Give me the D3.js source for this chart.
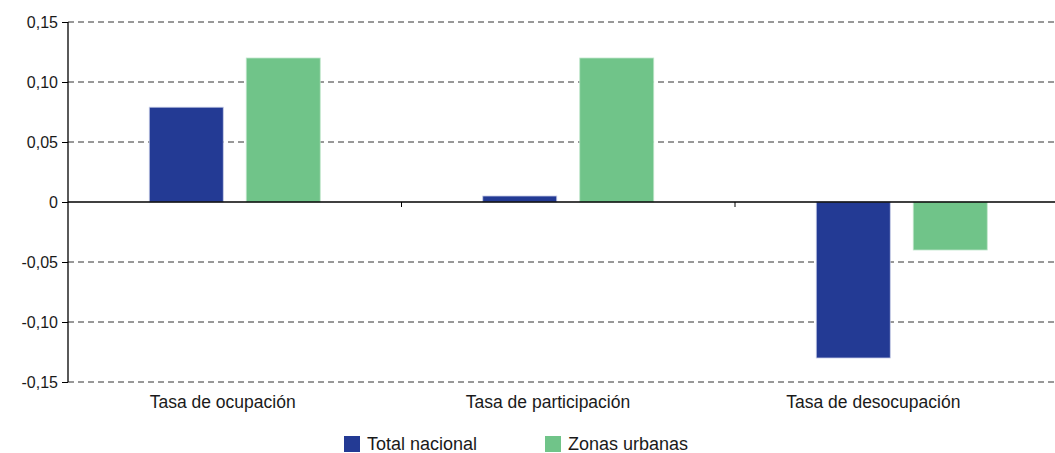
<!DOCTYPE html>
<html>
<head>
<meta charset="utf-8">
<script src="https://cdn.jsdelivr.net/npm/d3@7"></script>
<style>
  body { margin: 0; background: #fff; }
  svg { display: block; font-family: "Liberation Sans", Arial, sans-serif; }
</style>
</head>
<body>
<svg width="1055" height="453"></svg>
<script>
var categories = ["Tasa de ocupación", "Tasa de participación", "Tasa de desocupación"];
var series = ["Total nacional", "Zonas urbanas"];
var totalNacional = [0.079, 0.005, -0.13];
var zonasUrbanas = [0.12, 0.12, -0.04];
var yTicks = [-0.15, -0.10, -0.05, 0, 0.05, 0.10, 0.15];
var colors = ["#233a94", "#70c489"];

var values = [totalNacional, zonasUrbanas];

var svg = d3.select("svg");
var mLeft = 68, mRight = 1068.5, mTop = 22, mBottom = 382;

var x = d3.scaleBand().domain(categories).range([mLeft, mRight]);
var x1 = d3.scaleBand().domain(series).range([0, x.bandwidth()])
    .paddingInner(0.237).paddingOuter(0.838);
var y = d3.scaleLinear().domain([-0.15, 0.15]).range([mBottom, mTop]);
var xLabel = d3.scaleBand().domain(categories).range([60, 1036]);

var fmt = function (d) {
    if (d === 0) return "0";
    return d3.format(".2f")(d).replace(".", ",").replace("−", "-");
};

// grid lines
svg.selectAll(".grid")
    .data(yTicks.filter(d => d !== 0))
    .enter().append("line")
    .attr("x1", mLeft).attr("x2", 1055)
    .attr("y1", d => y(d)).attr("y2", d => y(d))
    .attr("stroke", "#333")
    .attr("stroke-width", 1)
    .attr("stroke-dasharray", "6,4");

// bars
series.forEach(function (s, i) {
    svg.selectAll(".bar" + i)
        .data(categories)
        .enter().append("rect")
        .attr("x", d => x(d) + x1(s))
        .attr("width", x1.bandwidth())
        .attr("y", (d, j) => y(Math.max(0, values[i][j])))
        .attr("height", (d, j) => Math.abs(y(values[i][j]) - y(0)))
        .attr("fill", colors[i])
        .attr("stroke", i === 0 ? "#c5cbe6" : "#bfe6ca")
        .attr("stroke-width", 0.8);
});

// zero line
svg.append("line")
    .attr("x1", mLeft).attr("x2", 1055)
    .attr("y1", y(0)).attr("y2", y(0))
    .attr("stroke", "#000").attr("stroke-width", 1.3);

// category ticks on zero line
svg.selectAll(".ctick")
    .data(categories.slice(1))
    .enter().append("line")
    .attr("x1", d => x(d)).attr("x2", d => x(d))
    .attr("y1", y(0)).attr("y2", y(0) + 5)
    .attr("stroke", "#000");

// y axis
var yAxis = d3.axisLeft(y).tickValues(yTicks).tickFormat(fmt).tickSize(6).tickPadding(4);
var ya = svg.append("g").attr("transform", "translate(" + mLeft + ",0)").call(yAxis);
ya.select(".domain").attr("stroke", "#000").attr("stroke-width", 1.3)
    .attr("d", "M0," + mTop + "V" + mBottom);
ya.selectAll(".tick line").attr("stroke", "#000");
ya.selectAll(".tick text").attr("fill", "#1a1a1a").style("font-size", "16px")
    .style("font-family", "'Liberation Sans', Arial, sans-serif");

// category labels
svg.selectAll(".clabel")
    .data(categories)
    .enter().append("text")
    .attr("x", d => xLabel(d) + xLabel.bandwidth() / 2)
    .attr("y", 408)
    .attr("text-anchor", "middle")
    .attr("fill", "#1a1a1a")
    .style("font-size", "17.5px")
    .text(d => d);

// legend
var legendX = [344, 545];
var lg = svg.selectAll(".legend")
    .data(series)
    .enter().append("g")
    .attr("transform", (d, i) => "translate(" + legendX[i] + ",436)");
lg.append("rect").attr("width", 16).attr("height", 16).attr("fill", (d, i) => colors[i]);
lg.append("text").attr("x", 23).attr("y", 14)
    .attr("fill", "#1a1a1a")
    .style("font-size", "18px")
    .text(d => d);
</script>
</body>
</html>
